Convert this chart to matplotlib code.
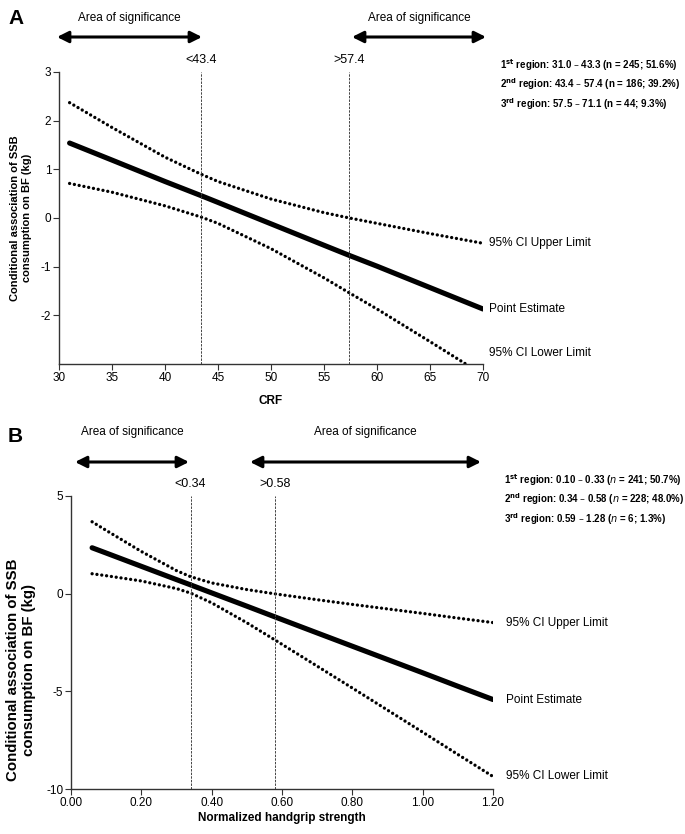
import matplotlib
matplotlib.use("Agg")
import matplotlib.pyplot as plt

plt.rcParams['font.family'] = ['Liberation Sans', 'DejaVu Sans']
plt.rcParams['axes.unicode_minus'] = False
NARROW = ['Liberation Sans Narrow', 'Liberation Sans', 'DejaVu Sans']

# Panel A: CRF
crf_x = [31, 35, 40, 43.4, 45, 50, 55, 57.4, 60, 65, 70]
crf_est = [1.54, 1.19, 0.75, 0.46, 0.32, -0.12, -0.56, -0.77, -0.99, -1.43, -1.87]
crf_upper = [2.37, 1.86, 1.25, 0.90, 0.75, 0.39, 0.11, 0.0, -0.11, -0.32, -0.52]
crf_lower = [0.71, 0.53, 0.25, 0.02, -0.11, -0.63, -1.23, -1.54, -1.87, -2.54, -3.22]
crf_bounds = [43.4, 57.4]
crf_bound_labels = ['<43.4', '>57.4']
crf_regions = [r'1$^{\mathbf{st}}$ region: 31.0 – 43.3 (n = 245; 51.6%)',
               r'2$^{\mathbf{nd}}$ region: 43.4 – 57.4 (n = 186; 39.2%)',
               r'3$^{\mathbf{rd}}$ region: 57.5 – 71.1 (n = 44; 9.3%)']

# Panel B: normalized handgrip strength
hg_x = [0.06, 0.1, 0.2, 0.3, 0.34, 0.4, 0.5, 0.58, 0.7, 0.8, 0.9, 1.0, 1.1, 1.2]
hg_est = [2.35, 2.08, 1.40, 0.72, 0.45, 0.04, -0.64, -1.19, -2.01, -2.69, -3.37, -4.05, -4.74, -5.42]
hg_upper = [3.68, 3.24, 2.16, 1.18, 0.87, 0.55, 0.21, -0.01, -0.31, -0.55, -0.78, -1.01, -1.25, -1.48]
hg_lower = [1.02, 0.92, 0.65, 0.26, 0.03, -0.47, -1.49, -2.37, -3.71, -4.83, -5.96, -7.09, -8.23, -9.36]
hg_bounds = [0.34, 0.58]
hg_bound_labels = ['<0.34', '>0.58']
hg_regions = [r'1$^{\mathbf{st}}$ region: 0.10 – 0.33 ($\mathit{n}$ = 241; 50.7%)',
              r'2$^{\mathbf{nd}}$ region: 0.34 – 0.58 ($\mathit{n}$ = 228; 48.0%)',
              r'3$^{\mathbf{rd}}$ region: 0.59 – 1.28 ($\mathit{n}$ = 6; 1.3%)']

W, H = 685, 834
fig = plt.figure(figsize=(W / 100, H / 100), dpi=100)


def fx(p):
    return p / W


def fy(p):
    return 1 - p / H


def panel(rect, x, est, up, lo, xlim, ylim, yticks, xticks, xticklabels,
          bounds, blabels, lbl_x):
    ax = fig.add_axes(rect)
    dot = dict(color='black', lw=2.4, linestyle=(0, (0.01, 1.45)),
               dash_capstyle='round')
    ax.plot(x, up, **dot)
    ax.plot(x, lo, **dot)
    ax.plot(x, est, color='black', lw=3.7, solid_capstyle='round')
    for b, t in zip(bounds, blabels):
        ax.axvline(b, ymin=0, ymax=1.0, color='#444444', lw=0.7,
                   linestyle=(0, (2.5, 1.2)))
        ax.text(b, ylim[1] + (ylim[1] - ylim[0]) * 0.02, t, ha='center',
                va='bottom', fontsize=9, family=NARROW)
    ax.set_xlim(*xlim)
    ax.set_ylim(*ylim)
    ax.set_yticks(yticks)
    ax.set_xticks(xticks)
    ax.set_xticklabels(xticklabels)
    for s in ['top', 'right']:
        ax.spines[s].set_visible(False)
    for s in ['left', 'bottom']:
        ax.spines[s].set_color('#333333')
        ax.spines[s].set_linewidth(1.0)
    ax.tick_params(direction='out', length=4, width=0.8, color='#333333',
                   labelsize=8.5, pad=1.5)
    ax.text(lbl_x, up[-1], '95% CI Upper Limit', va='center', ha='left',
            fontsize=8.5, clip_on=False)
    ax.text(lbl_x, est[-1], 'Point Estimate', va='center', ha='left',
            fontsize=8.5, clip_on=False)
    return ax


# ---- Panel A
axA = panel([fx(59), fy(364), fx(483 - 59), (364 - 72) / H],
            crf_x, crf_est, crf_upper, crf_lower, (30, 70), (-3, 3),
            [-2, -1, 0, 1, 2, 3], list(range(30, 71, 5)),
            [str(v) for v in range(30, 71, 5)], crf_bounds, crf_bound_labels,
            70.6)
axA.text(70.6, -2.77, '95% CI Lower Limit', va='center', ha='left',
         fontsize=8.5, clip_on=False)

# ---- Panel B
axB = panel([fx(71), fy(789), fx(493 - 71), (789 - 496) / H],
            hg_x, hg_est, hg_upper, hg_lower, (0, 1.2), (-10, 5),
            [-10, -5, 0, 5], [0, 0.2, 0.4, 0.6, 0.8, 1.0, 1.2],
            ['0.00', '0.20', '0.40', '0.60', '0.80', '1.00', '1.20'],
            hg_bounds, hg_bound_labels, 1.237)
axB.text(1.237, hg_lower[-1], '95% CI Lower Limit', va='center', ha='left',
         fontsize=8.5, clip_on=False)

# panel letters
fig.text(fx(8), fy(18), 'A', fontsize=15, fontweight='bold', va='center')
fig.text(fx(8), fy(437), 'B', fontsize=15, fontweight='bold', va='center')

# y labels
fig.text(fx(21), fy(218), 'Conditional association of SSB\nconsumption on BF (kg)',
         rotation=90, ha='center', va='center', fontsize=8, fontweight='bold',
         linespacing=1.15)
fig.text(fx(21), fy(670), 'Conditional association of SSB\nconsumption on BF (kg)',
         rotation=90, ha='center', va='center', fontsize=10.8, fontweight='bold',
         linespacing=1.15)

# x labels
fig.text(fx(271), fy(401), 'CRF', ha='center', va='center', fontsize=8.5,
         fontweight='bold')
fig.text(fx(282), fy(818), 'Normalized handgrip strength', ha='center',
         va='center', fontsize=8.5, fontweight='bold', family=NARROW)

# areas of significance
arrow = dict(arrowstyle='<|-|>', color='black', lw=2.2, mutation_scale=17,
             shrinkA=0, shrinkB=0)
for (x0, x1, yt, ya) in [(57, 202, 18, 37), (352, 486, 18, 37),
                         (75, 189, 432, 462), (250, 481, 432, 462)]:
    fig.text(fx((x0 + x1) / 2), fy(yt), 'Area of significance', ha='center',
             va='center', fontsize=8.5, family=NARROW)
    fig.add_artist(matplotlib.patches.FancyArrowPatch(
        (fx(x0), fy(ya)), (fx(x1), fy(ya)), transform=fig.transFigure, **arrow))

# region descriptions
for i, t in enumerate(crf_regions):
    fig.text(fx(500), fy(65 + 19.5 * i), t, ha='left', va='center',
             fontsize=7, fontweight='bold', family=NARROW)
for i, t in enumerate(hg_regions):
    fig.text(fx(504), fy(480 + 19.5 * i), t, ha='left', va='center',
             fontsize=7, fontweight='bold', family=NARROW)

fig.savefig('out.png', dpi=100)
